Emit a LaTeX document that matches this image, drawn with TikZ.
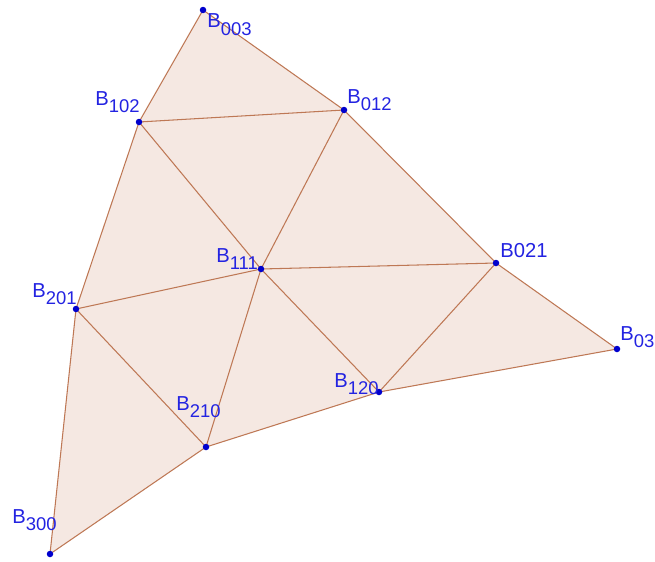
\documentclass[tikz,border=0pt]{standalone}
\usepackage{fontspec}
\setmainfont{Liberation Sans}
\definecolor{edgebrown}{RGB}{190,120,85}
\definecolor{facefill}{RGB}{245,232,226}
\definecolor{ptblue}{RGB}{0,0,205}
\definecolor{lblblue}{RGB}{35,35,225}
\tikzset{
    patch/.style  = {fill=facefill, draw=edgebrown, line width=0.6pt,
                     line join=round},
    edge/.style   = {draw=edgebrown, line width=0.6pt},
    cpoint/.style = {circle, fill=ptblue, inner sep=0pt, minimum size=1.3mm},
    lbl/.style    = {text=lblblue, font=\fontsize{11.5}{13}\selectfont,
                     inner sep=0pt, anchor=base west}
}
\newcommand{\bsub}[1]{B\raisebox{-4.2pt}{\fontsize{10.5}{11}\selectfont #1}}

\begin{document}
\begin{tikzpicture}[x=0.02cm,y=-0.02cm]
\useasboundingbox (0,0) rectangle (655,561);

% ================= control points =================
\coordinate (p003) at (203,10);
\coordinate (p102) at (139,122);
\coordinate (p012) at (344,110);
\coordinate (p201) at (76,309);
\coordinate (p111) at (261,269);
\coordinate (p021) at (496,263);
\coordinate (p300) at (50,554);
\coordinate (p210) at (206,447);
\coordinate (p120) at (379,392);
\coordinate (p030) at (617,349);

% ================= control net =================
\draw[patch] (p003) -- (p012) -- (p021) -- (p030) -- (p120) -- (p210)
    -- (p300) -- (p201) -- (p102) -- cycle;
\draw[edge] (p102) -- (p012);
\draw[edge] (p201) -- (p111) -- (p021);
\draw[edge] (p102) -- (p111) -- (p120);
\draw[edge] (p012) -- (p111) -- (p210);
\draw[edge] (p201) -- (p210);
\draw[edge] (p021) -- (p120);

% ================= points and labels =================
\foreach \p in {003,102,012,201,111,021,300,210,120,030}
    \node[cpoint] (b\p) at (p\p) {};

\node[lbl] (t003) at (207,28)  {\bsub{003}};
\node[lbl] (t102) at (95,105)  {\bsub{102}};
\node[lbl] (t012) at (347,103) {\bsub{012}};
\node[lbl] (t111) at (216,262) {\bsub{111}};
\node[lbl] (t021) at (500,257) {B021};
\node[lbl] (t030) at (620,340) {\bsub{030}};
\node[lbl] (t201) at (32,297)  {\bsub{201}};
\node[lbl] (t120) at (334,387) {\bsub{120}};
\node[lbl] (t210) at (176,410) {\bsub{210}};
\node[lbl] (t300) at (12,523)  {\bsub{300}};

\end{tikzpicture}
\end{document}
